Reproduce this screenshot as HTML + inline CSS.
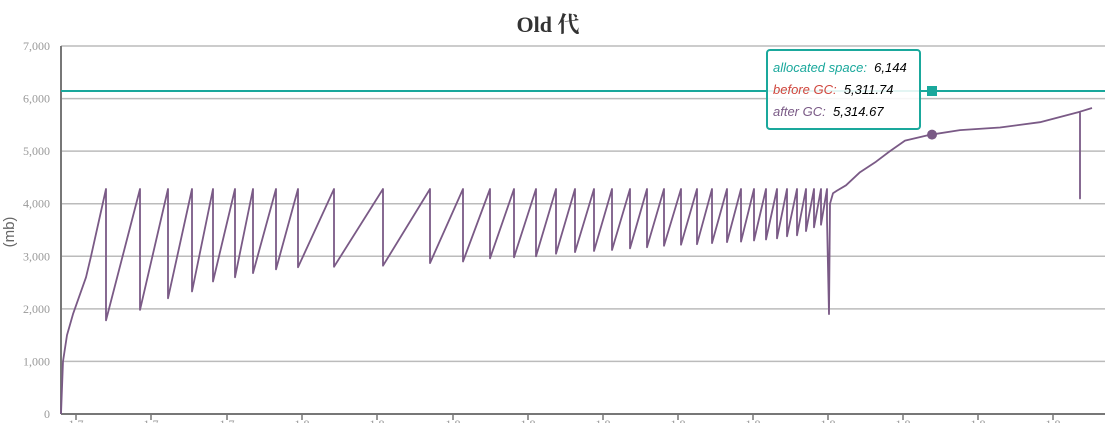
<!DOCTYPE html>
<html><head><meta charset="utf-8"><style>
body{margin:0;background:#fff;width:1105px;height:423px;overflow:hidden;position:relative}
svg{position:absolute;left:0;top:0}
.tip{position:absolute;left:766px;top:49px;width:155px;height:81px;border:2px solid #1aa89c;border-radius:4px;background:rgba(255,255,255,0.88);font-family:"Liberation Sans",sans-serif;font-style:italic;font-size:13px;box-sizing:border-box;padding:6px 0 0 5px;line-height:22px}
</style></head><body>
<svg id="c" width="1105" height="423"></svg>
<div class="tip">
<div><span style="color:#1aa89c">allocated space:</span>&nbsp; 6,144</div>
<div><span style="color:#d0473e">before GC:</span>&nbsp; 5,311.74</div>
<div><span style="color:#7a5a86">after GC:</span>&nbsp; 5,314.67</div>
</div>
<script>
const yTicks=[0,1000,2000,3000,4000,5000,6000,7000];
const allocated=6144;
const peakVal=4280;
const firstRamp=[[0,0],[2,1000],[6,1500],[12,1900],[25,2600],[30,3000],[45,4280]];
const resetTimes=[45,79,107,131,152,174,192,215,237,273,322,369,402,429,453,475,495,514,533,551,569,586,603,620,636,651,666,680,693,705,716,726,736,745,753,760,766];
const troughVals=[1780,1980,2200,2330,2520,2600,2680,2750,2790,2800,2820,2870,2900,2960,2980,3000,3050,3080,3100,3120,3150,3170,3200,3220,3230,3250,3270,3280,3300,3320,3340,3380,3400,3480,3550,3600,3700];
const tail=[[768,1900],[769,4000],[772,4200],[776,4250],[785,4350],[799,4600],[815,4800],[829,5000],[844,5200],[869,5310],[899,5400],[939,5450],[979,5550],[1019,5750],[1019,4100],[1019,5750],[1031,5820]];
const xTickTimes=[15,90,166,241,316,392,467,542,617,692,767,842,917,992];
const xTickLabels=["1 7","1 7","1 7","1 8","1 8","1 8","1 8","1 8","1 8","1 8","1 8","1 8","1 8","1 8"];
const X0=61,X1=1092,Y0=414,Y7=46;
const xs=t=>X0+t*(X1-X0)/1031;
const ys=v=>Y0-v*(Y0-Y7)/7000;
const NS="http://www.w3.org/2000/svg";
const svg=document.getElementById('c');
function mk(tag,attrs){const e=document.createElementNS(NS,tag);for(const k in attrs)e.setAttribute(k,attrs[k]);svg.appendChild(e);return e;}
const title=mk('text',{x:548,y:32,'text-anchor':'middle','font-family':'Liberation Serif,Noto Serif CJK SC,serif','font-size':22,'font-weight':'bold',fill:'#333'});
title.textContent='Old 代';


const yt=mk('text',{x:0,y:0,transform:'translate(14,232) rotate(-90)','text-anchor':'middle','font-family':'Liberation Sans,sans-serif','font-size':15,fill:'#666'});
yt.textContent='(mb)';


yTicks.forEach(v=>{
 const g=mk('line',{x1:X0,x2:1105,y1:ys(v),y2:ys(v),stroke:'#bbb','stroke-width':1.5});
 
 
 const t=mk('text',{x:50,y:ys(v)+4,'text-anchor':'end','font-family':'Liberation Serif,serif','font-size':12,fill:'#999'});
 t.textContent=v.toLocaleString('en-US');
 
 
});
const ya=mk('line',{x1:X0,x2:X0,y1:Y7,y2:Y0,stroke:'#777','stroke-width':2});


const xa=mk('line',{x1:X0,x2:1105,y1:Y0,y2:Y0,stroke:'#777','stroke-width':2});


xTickTimes.forEach((t,i)=>{
 const tk=mk('line',{x1:xs(t),x2:xs(t),y1:Y0,y2:Y0+6,stroke:'#777','stroke-width':1.5});
 
 
 const tl=mk('text',{x:xs(t),y:428,'text-anchor':'middle','font-family':'Liberation Serif,serif','font-size':12,fill:'#999','xml:space':'preserve'});
 tl.textContent=xTickLabels[i].replace(' ','      ');
 
 
});
const al=mk('line',{x1:X0,x2:1105,y1:ys(allocated),y2:ys(allocated),stroke:'#1aa89c','stroke-width':2});


let pts=firstRamp.slice();
for(let i=0;i<resetTimes.length;i++){
 pts.push([resetTimes[i],peakVal]);
 pts.push([resetTimes[i],troughVals[i]]);
 if(i+1<resetTimes.length)pts.push([resetTimes[i+1],peakVal]);
}
pts=pts.concat(tail);
const d=pts.map((p,i)=>(i?'L':'M')+xs(p[0]).toFixed(1)+','+ys(p[1]).toFixed(1)).join('');
const ln=mk('path',{d:d,fill:'none',stroke:'#7a5a86','stroke-width':1.8,'stroke-linejoin':'round'});


const sq=mk('rect',{x:xs(871)-5,y:ys(allocated)-5,width:10,height:10,fill:'#1aa89c'});


const ci=mk('circle',{cx:xs(871),cy:ys(5314.67),r:5,fill:'#7a5a86'});


</script>
</body></html>
